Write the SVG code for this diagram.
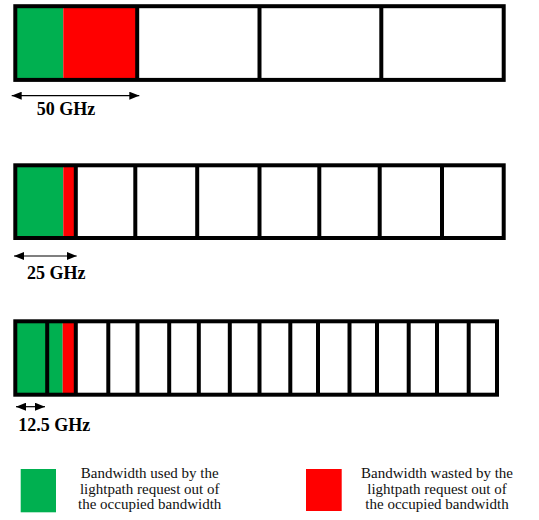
<svg xmlns="http://www.w3.org/2000/svg" width="539" height="520" viewBox="0 0 539 520">
<style>
.frame{fill:none;stroke:#000;stroke-width:4;stroke-linejoin:miter}
.div{stroke:#000;stroke-width:4}
.g{fill:#00B050}
.r{fill:#FF0000}
.lbl{font-family:"Liberation Serif","Times New Roman",serif;font-weight:bold;font-size:18px;fill:#000;text-anchor:middle}
.leg{font-family:"Liberation Serif","Times New Roman",serif;font-size:15px;fill:#111;text-anchor:middle}
.dim{stroke:#000;stroke-width:1.2;fill:none;marker-start:url(#ah);marker-end:url(#ah)}
</style>
<defs>
<marker id="ah" markerUnits="userSpaceOnUse" viewBox="0 0 10 8" refX="10" refY="4" markerWidth="10" markerHeight="8" orient="auto-start-reverse">
<path d="M0,0 L10,4 L0,8 z" fill="#000"/>
</marker>
</defs>
<rect width="539" height="520" fill="#fff"/>

<g id="bar50">
<rect class="g" x="15.3" y="6.2" width="48" height="73.7"/>
<rect class="r" x="63.3" y="6.2" width="73.9" height="73.7"/>
<line class="div" x1="137.2" y1="6.2" x2="137.2" y2="79.9"/>
<line class="div" x1="259.5" y1="6.2" x2="259.5" y2="79.9"/>
<line class="div" x1="381.3" y1="6.2" x2="381.3" y2="79.9"/>
<rect class="frame" x="15.3" y="6.2" width="488.4" height="73.7"/>
<text class="lbl" x="66" y="115">50 GHz</text>
</g>

<g id="bar25">
<rect class="g" x="15.3" y="165.3" width="48" height="72.7"/>
<rect class="r" x="63.3" y="165.3" width="12.5" height="72.7"/>
<line class="div" x1="75.8" y1="165.3" x2="75.8" y2="238"/>
<line class="div" x1="135.3" y1="165.3" x2="135.3" y2="238"/>
<line class="div" x1="197.2" y1="165.3" x2="197.2" y2="238"/>
<line class="div" x1="259.5" y1="165.3" x2="259.5" y2="238"/>
<line class="div" x1="319.3" y1="165.3" x2="319.3" y2="238"/>
<line class="div" x1="379.7" y1="165.3" x2="379.7" y2="238"/>
<line class="div" x1="442" y1="165.3" x2="442" y2="238"/>
<rect class="frame" x="15.3" y="165.3" width="488.4" height="72.7"/>
<text class="lbl" x="56.3" y="279">25 GHz</text>
</g>

<g id="bar12">
<rect class="g" x="15.3" y="321.3" width="31.9" height="73.4"/>
<rect class="g" x="47.2" y="321.3" width="15.5" height="73.4"/>
<rect class="r" x="62.7" y="321.3" width="13.1" height="73.4"/>
<line class="div" x1="47.2" y1="321.3" x2="47.2" y2="394.7"/>
<line class="div" x1="75.8" y1="321.3" x2="75.8" y2="394.7"/>
<line class="div" x1="108.3" y1="321.3" x2="108.3" y2="394.7"/>
<line class="div" x1="137.5" y1="321.3" x2="137.5" y2="394.7"/>
<line class="div" x1="169.2" y1="321.3" x2="169.2" y2="394.7"/>
<line class="div" x1="198.8" y1="321.3" x2="198.8" y2="394.7"/>
<line class="div" x1="229.8" y1="321.3" x2="229.8" y2="394.7"/>
<line class="div" x1="259.5" y1="321.3" x2="259.5" y2="394.7"/>
<line class="div" x1="290.3" y1="321.3" x2="290.3" y2="394.7"/>
<line class="div" x1="318" y1="321.3" x2="318" y2="394.7"/>
<line class="div" x1="349.5" y1="321.3" x2="349.5" y2="394.7"/>
<line class="div" x1="377" y1="321.3" x2="377" y2="394.7"/>
<line class="div" x1="408.7" y1="321.3" x2="408.7" y2="394.7"/>
<line class="div" x1="437" y1="321.3" x2="437" y2="394.7"/>
<line class="div" x1="468.7" y1="321.3" x2="468.7" y2="394.7"/>
<rect class="frame" x="15.3" y="321.3" width="481.7" height="73.4"/>
<text class="lbl" x="54.2" y="430.5">12.5 GHz</text>
</g>

<g id="connectors">
<line class="dim" x1="11.7" y1="95.7" x2="139.3" y2="95.7"/>
<line class="dim" x1="14" y1="256" x2="76.7" y2="256"/>
<line class="dim" x1="16" y1="406.7" x2="45" y2="406.7"/>
</g>

<g id="legend-used">
<rect class="g" x="20.7" y="469" width="35.3" height="43.3"/>
<text class="leg" x="149.7" y="477.7">Bandwidth used by the</text>
<text class="leg" x="149.7" y="493.5">lightpath request out of</text>
<text class="leg" x="149.7" y="509.3">the occupied bandwidth</text>
</g>

<g id="legend-wasted">
<rect class="r" x="306" y="469" width="35.7" height="42"/>
<text class="leg" x="437" y="477.7">Bandwidth wasted by the</text>
<text class="leg" x="437" y="493.5">lightpath request out of</text>
<text class="leg" x="437" y="509.3">the occupied bandwidth</text>
</g>
</svg>
